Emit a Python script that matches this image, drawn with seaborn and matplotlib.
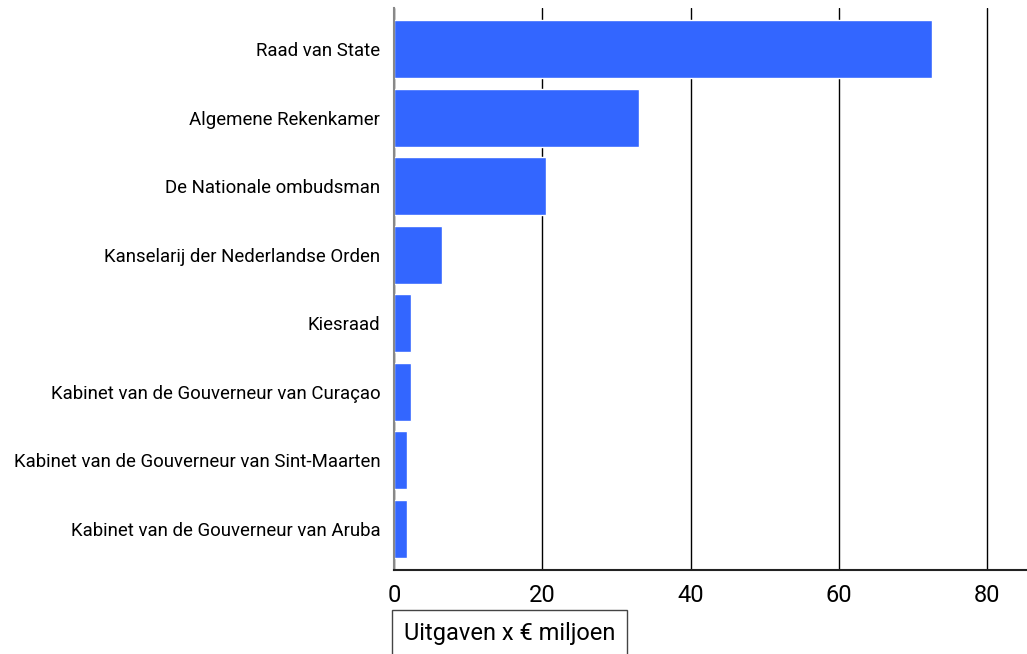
import matplotlib
matplotlib.use("Agg")
import matplotlib.pyplot as plt
import seaborn as sns
import pandas as pd

# data
organen = [
    "Raad van State",
    "Algemene Rekenkamer",
    "De Nationale ombudsman",
    "Kanselarij der Nederlandse Orden",
    "Kiesraad",
    "Kabinet van de Gouverneur van Curaçao",
    "Kabinet van de Gouverneur van Sint-Maarten",
    "Kabinet van de Gouverneur van Aruba",
]
uitgaven = [72.6, 33.0, 20.5, 6.5, 2.3, 2.3, 1.8, 1.8]
xticks = [0, 20, 40, 60, 80]

df = pd.DataFrame({"orgaan": organen, "uitgaven": uitgaven})

sns.set_style("white")
plt.rcParams["font.family"] = ["Roboto", "DejaVu Sans"]
plt.rcParams["text.color"] = "black"
plt.rcParams["xtick.color"] = "black"
plt.rcParams["ytick.color"] = "black"

fig = plt.figure(figsize=(10.27, 6.54), dpi=100)
ax = fig.add_axes([0.3837, 0.1284, 0.6163, 0.8594])

sns.barplot(data=df, y="orgaan", x="uitgaven", orient="h", color="#3366ff",
            saturation=1, width=0.85, ax=ax, zorder=2)

ax.set_xlim(0, 85.4)
ax.set_ylim(7.6, -0.6)
ax.set_xticks(xticks)
ax.set_xticklabels([str(t) for t in xticks], fontsize=17)
ax.tick_params(axis="y", labelsize=13.4, length=0, pad=10)
ax.tick_params(axis="x", length=0, pad=10)
ax.xaxis.grid(True, color="black", linewidth=1)
ax.set_axisbelow(True)

for s in ["top", "right"]:
    ax.spines[s].set_visible(False)
ax.spines["left"].set_color("#888888")
ax.spines["left"].set_linewidth(1.5)
ax.spines["bottom"].set_color("#222222")
ax.spines["bottom"].set_linewidth(1.5)

ax.set_ylabel("")
ax.set_xlabel("")
fig.text(0.3935, 0.022, "Uitgaven x € miljoen", fontsize=17, ha="left", va="baseline",
         bbox=dict(boxstyle="square,pad=0.5", facecolor="white", edgecolor="#444444"))

fig.savefig("out.png", dpi=100)
